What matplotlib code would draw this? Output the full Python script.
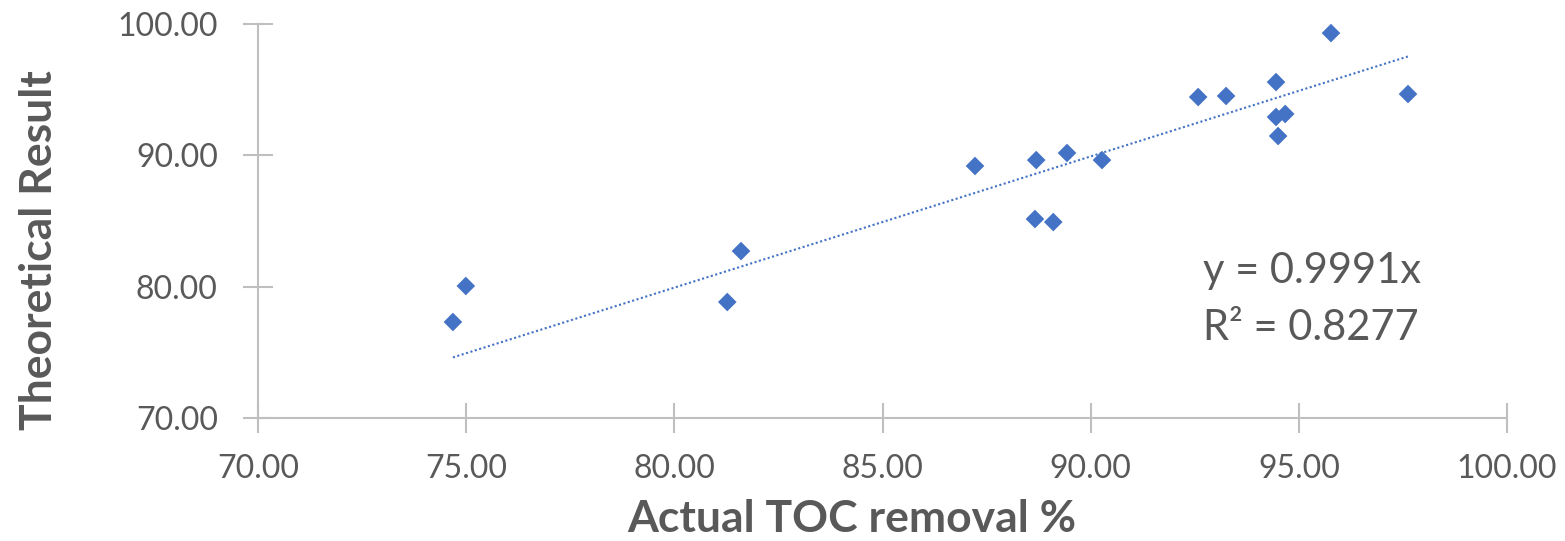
"""Theoretical vs actual TOC removal scatter with linear trendline through origin."""

import numpy as np
import matplotlib
matplotlib.use('Agg')
import matplotlib.pyplot as plt

# Data
actual_toc = [74.68, 74.99, 81.27, 81.60, 87.22, 88.69, 88.66, 89.10, 89.43,
              90.27, 92.58, 93.25, 94.45, 94.45, 94.67, 94.50, 95.77, 97.62]
theoretical = [77.31, 80.05, 78.83, 82.71, 89.19, 89.64, 85.15, 84.92, 90.18,
               89.64, 94.44, 94.52, 95.58, 92.92, 93.15, 91.47, 99.31, 94.67]
slope = 0.9991
r_squared = 0.8277

x_ticks = [70, 75, 80, 85, 90, 95, 100]
y_ticks = [70, 80, 90, 100]

BLUE = '#4472C4'
TEXT = '#595959'
AXIS = '#BFBFBF'

plt.rcParams['font.family'] = ['Lato', 'DejaVu Sans']

fig = plt.figure(figsize=(15.65, 5.41), dpi=100)
ax = fig.add_axes([0.1649, 0.2274, 0.963 - 0.1649, 0.9556 - 0.2274])

ax.scatter(actual_toc, theoretical, marker='D', s=90, color=BLUE,
           edgecolors='none', zorder=3)

# Trendline through origin, drawn over the data range
xs = np.array([min(actual_toc), max(actual_toc)])
ax.plot(xs, slope * xs, linestyle=(0, (1, 1.2)), color=BLUE, linewidth=1.5,
        zorder=2)

ax.set_xlim(70, 100)
ax.set_ylim(70, 100)
ax.set_xticks(x_ticks)
ax.set_yticks(y_ticks)
ax.set_xticklabels([f'{v:.2f}' for v in x_ticks])
ax.set_yticklabels([f'{v:.2f}' for v in y_ticks])

for side in ['top', 'right']:
    ax.spines[side].set_visible(False)
for side in ['left', 'bottom']:
    ax.spines[side].set_color(AXIS)
    ax.spines[side].set_linewidth(1.5)

ax.tick_params(axis='both', direction='inout', length=22, width=1.5,
               color=AXIS, labelcolor=TEXT, labelsize=23)
ax.tick_params(axis='x', pad=15)
ax.tick_params(axis='y', pad=18)

ax.set_xlabel('Actual TOC removal %', fontsize=32, fontweight='bold',
              color=TEXT, va='baseline')
ax.xaxis.set_label_coords(0.4756, (418 - 532) / 394)
ax.set_ylabel('Theoretical Result', fontsize=32, fontweight='bold',
              color=TEXT, va='baseline')
ax.yaxis.set_label_coords((52 - 258) / 1249, (418 - 250) / 394)

ax.text(0.7566, 0.3426, f'y = {slope:.4f}x', transform=ax.transAxes,
        fontsize=30, color=TEXT, ha='left', va='baseline')
ax.text(0.7566, 0.198, f'R² = {r_squared:.4f}', transform=ax.transAxes,
        fontsize=30, color=TEXT, ha='left', va='baseline')

fig.savefig('out.png', dpi=100)
